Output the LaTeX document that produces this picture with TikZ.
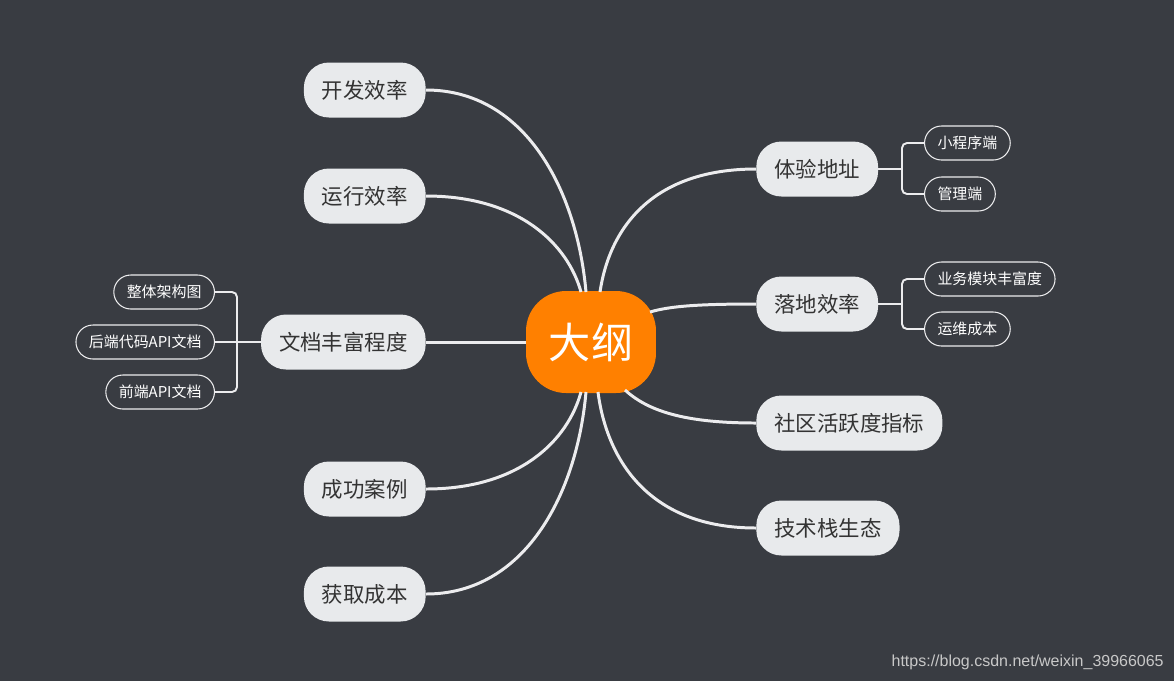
\documentclass[tikz,border=0pt]{standalone}
\usepackage{fontspec}
\newfontfamily\cjk{Noto Sans CJK SC}
\newfontfamily\urlfont{Liberation Sans}
\usetikzlibrary{positioning}
\definecolor{canvas}{RGB}{57,60,66}
\definecolor{rootfill}{RGB}{255,128,0}
\definecolor{topicfill}{RGB}{232,234,236}
\definecolor{topictext}{RGB}{51,51,51}
\definecolor{wire}{RGB}{236,236,238}
\definecolor{mark}{RGB}{200,200,200}
\begin{document}
\begin{tikzpicture}[
    x=0.02cm, y=-0.02cm,
    root/.style={fill=rootfill, rounded corners=0.8cm, minimum width=2.6cm, minimum height=2.04cm, text=white, font=\cjk\fontsize{24}{28}\selectfont},
    topic/.style={fill=topicfill, rounded corners=0.5cm, inner xsep=0.36cm, inner ysep=0pt, minimum height=1.1cm, text=topictext, font=\cjk\fontsize{12.2}{14}\selectfont},
    sub/.style={draw=wire, line width=0.6pt, rounded corners=0.34cm, inner xsep=0.26cm, inner ysep=0pt, minimum height=0.68cm, text=white, font=\cjk\fontsize{8.5}{10}\selectfont},
    branch/.style={draw=wire, line width=1.7pt},
    twig/.style={draw=wire, line width=1.1pt, rounded corners=0.1cm}
]
\fill[canvas] (0,0) rectangle (1174,681);
\useasboundingbox (0,0) rectangle (1174,681);

\node[root] (outline) at (591,342) {大纲};

\node[topic, anchor=east] (devspeed) at (426,90) {开发效率};
\node[topic, anchor=east] (runspeed) at (426,196) {运行效率};
\node[topic, anchor=east] (docs) at (426,342) {文档丰富程度};
\node[topic, anchor=east] (cases) at (426,489) {成功案例};
\node[topic, anchor=east] (cost) at (426,594) {获取成本};
\node[topic, anchor=west] (demo) at (756,169) {体验地址};
\node[topic, anchor=west] (landing) at (756,304) {落地效率};
\node[topic, anchor=west] (community) at (756,423) {社区活跃度指标};
\node[topic, anchor=west] (ecosystem) at (756,528) {技术栈生态};

\node[sub, anchor=west] (miniapp) at (924,143) {小程序端};
\node[sub, anchor=west] (admin) at (924,194) {管理端};
\node[sub, anchor=west] (modules) at (924,279) {业务模块丰富度};
\node[sub, anchor=west] (ops) at (924,329) {运维成本};
\node[sub, anchor=east] (arch) at (215,292) {整体架构图};
\node[sub, anchor=east] (backapi) at (215,342) {后端代码API文档};
\node[sub, anchor=east] (frontapi) at (215,392) {前端API文档};

\coordinate (demojoint) at (902,169);
\coordinate (landjoint) at (902,304);
\coordinate (docjoint) at (237,342);

\draw[branch] (devspeed.east) .. controls (525,90) and (577,190) .. (586,292);
\draw[branch] (runspeed.east) .. controls (520,196) and (568,245) .. (581,292);
\draw[branch] (docs.east) -- (outline.west);
\draw[branch] (cases.east) .. controls (520,489) and (568,440) .. (581,392);
\draw[branch] (cost.east) .. controls (525,594) and (577,494) .. (586,392);
\draw[branch] (demo.west) .. controls (655,169) and (610,225) .. (600,292);
\draw[branch] (landing.west) .. controls (700,304) and (670,306) .. (650,312);
\draw[branch] (community.west) .. controls (690,423) and (650,413) .. (625,390);
\draw[branch] (ecosystem.west) .. controls (645,528) and (606,455) .. (598,392);

\draw[twig] (demo.east) -- (demojoint);
\draw[twig] (demojoint) |- (miniapp.west);
\draw[twig] (demojoint) |- (admin.west);
\draw[twig] (landing.east) -- (landjoint);
\draw[twig] (landjoint) |- (modules.west);
\draw[twig] (landjoint) |- (ops.west);
\draw[twig] (docs.west) -- (docjoint);
\draw[twig] (docjoint) |- (arch.east);
\draw[twig] (docjoint) -- (backapi.east);
\draw[twig] (docjoint) |- (frontapi.east);

\node[anchor=east, text=mark, font=\urlfont\fontsize{9.1}{11}\selectfont, inner sep=0pt] (credit) at (1164,662) {https://blog.csdn.net/weixin\_39966065};
\end{tikzpicture}
\end{document}
